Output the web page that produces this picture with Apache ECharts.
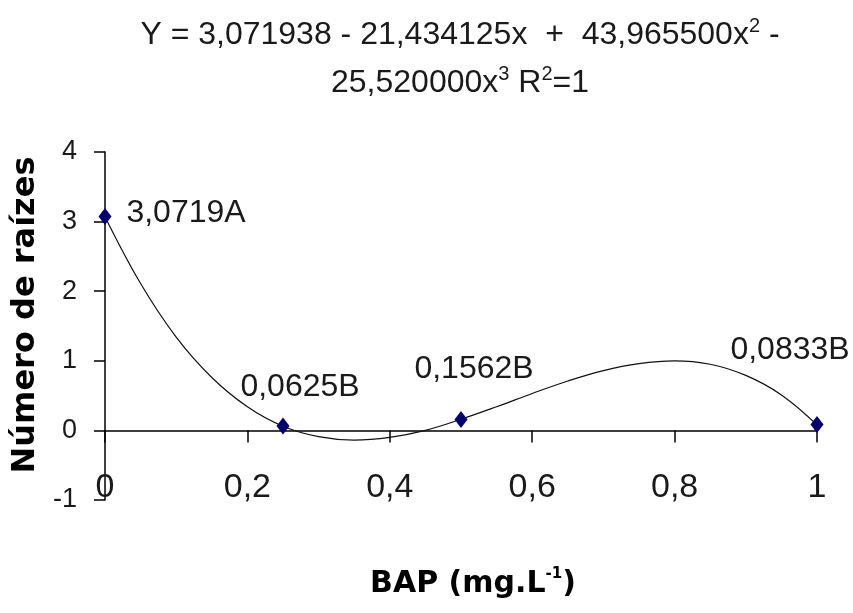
<!DOCTYPE html>
<html><head><meta charset="utf-8">
<script src="https://cdn.jsdelivr.net/npm/echarts@6/dist/echarts.min.js"></script>
<style>html,body{margin:0;padding:0;background:#fff}#c{width:853px;height:613px}</style>
</head><body><div id="c"></div>
<script>
// ---- data ----
const pointX = [0, 0.25, 0.5, 1];
const pointY = [3.0719, 0.0625, 0.1562, 0.0833];
const pointLabels = ['3,0719A', '0,0625B', '0,1562B', '0,0833B'];

// trend curve
const curveX = [0, 0.05, 0.10, 0.15, 0.20, 0.25, 0.30, 0.35, 0.40, 0.45, 0.50,
                0.55, 0.60, 0.65, 0.70, 0.75, 0.80, 0.85, 0.90, 0.95, 1.00];
const curveY = [3.07, 2.11, 1.34, 0.76, 0.34, 0.06, -0.09, -0.14, -0.10, 0.00, 0.16,
                0.34, 0.53, 0.71, 0.86, 0.96, 1.00, 0.95, 0.79, 0.51, 0.08];

const xTickLabels = ['0', '0,2', '0,4', '0,6', '0,8', '1'];
const yTickLabels = ['-1', '0', '1', '2', '3', '4'];

const titleLine1 = '{n|Y = 3,071938 - 21,434125x  +  43,965500x}{s|2}{n| -}';
const titleLine2 = '{n|25,520000x}{s|3}{n| R}{s|2}{n|=1}';
const xName = '{b|BAP (mg.L}{s|-1}{b|)}';
const yName = 'Número de raízes';

// ---- styling (not data) ----
const labelOffsets = [[81, -3], [17, -39], [13, -50], [-27, -74]];
const txt = '#1a1a1a';

const titleRich = {
  n: {fontSize: 32, fontFamily: 'Liberation Sans', color: txt, lineHeight: 38},
  s: {fontSize: 20, fontFamily: 'Liberation Sans', color: txt, lineHeight: 28, verticalAlign: 'top'}
};

const chart = echarts.init(document.getElementById('c'), null, {renderer: 'canvas'});
chart.setOption({
  animation: false,
  backgroundColor: '#fff',
  textStyle: {fontFamily: 'Liberation Sans'},
  title: [
    {text: titleLine1, left: 455, top: 11, textAlign: 'center',
     textStyle: {fontWeight: 'normal', fontSize: 32, lineHeight: 38, rich: titleRich}},
    {text: titleLine2, left: 455, top: 59, textAlign: 'center',
     textStyle: {fontWeight: 'normal', fontSize: 32, lineHeight: 38, rich: titleRich}}
  ],
  grid: {left: 105, right: 36, top: 152, bottom: 113, containLabel: false, outerBoundsMode: 'none'},
  xAxis: {
    type: 'value', min: 0, max: 1, interval: 0.2,
    axisLine: {show: true, onZero: true, lineStyle: {color: '#000', width: 1.5}},
    axisTick: {show: true, length: 12, lineStyle: {color: '#000', width: 1.5}},
    axisLabel: {margin: -29, fontSize: 34, color: txt, fontFamily: 'Liberation Sans',
      formatter: v => xTickLabels[Math.round(v / 0.2)]},
    splitLine: {show: false},
    name: xName, nameLocation: 'middle', nameGap: 67,
    nameTextStyle: {padding: [0, 0, 0, 24], rich: {
      b: {fontFamily: 'DejaVu Sans', fontWeight: 'bold', fontSize: 30, color: '#000', lineHeight: 34},
      s: {fontFamily: 'DejaVu Sans', fontWeight: 'bold', fontSize: 15, color: '#000', lineHeight: 22, verticalAlign: 'top'}
    }}
  },
  yAxis: {
    type: 'value', min: -1, max: 4, interval: 1,
    axisLine: {show: true, onZero: false, lineStyle: {color: '#000', width: 1.5}},
    axisTick: {show: true, length: 11, lineStyle: {color: '#000', width: 1.5}},
    axisLabel: {margin: 28, fontSize: 27, color: txt, fontFamily: 'Liberation Sans',
      formatter: v => yTickLabels[Math.round(v + 1)]},
    splitLine: {show: false},
    name: yName, nameLocation: 'middle', nameGap: 63,
    nameTextStyle: {fontFamily: 'DejaVu Sans', fontWeight: 'bold', fontSize: 32, color: '#000',
      padding: [0, 0, 0, 22]}
  },
  series: [
    {
      type: 'line', smooth: 0.4, showSymbol: false, silent: true,
      data: curveX.map((x, i) => [x, curveY[i]]),
      lineStyle: {color: '#111', width: 1.2}, z: 2
    },
    {
      type: 'scatter', symbol: 'diamond', symbolSize: [13, 17], z: 3,
      itemStyle: {color: '#00006e', opacity: 1},
      data: pointX.map((x, i) => ({
        value: [x, pointY[i]],
        label: {show: true, position: 'inside', offset: labelOffsets[i],
          formatter: pointLabels[i], fontSize: 32, color: txt, fontFamily: 'Liberation Sans',
          textBorderWidth: 0, textBorderColor: 'transparent'}
      }))
    }
  ]
});
</script>
</body></html>
